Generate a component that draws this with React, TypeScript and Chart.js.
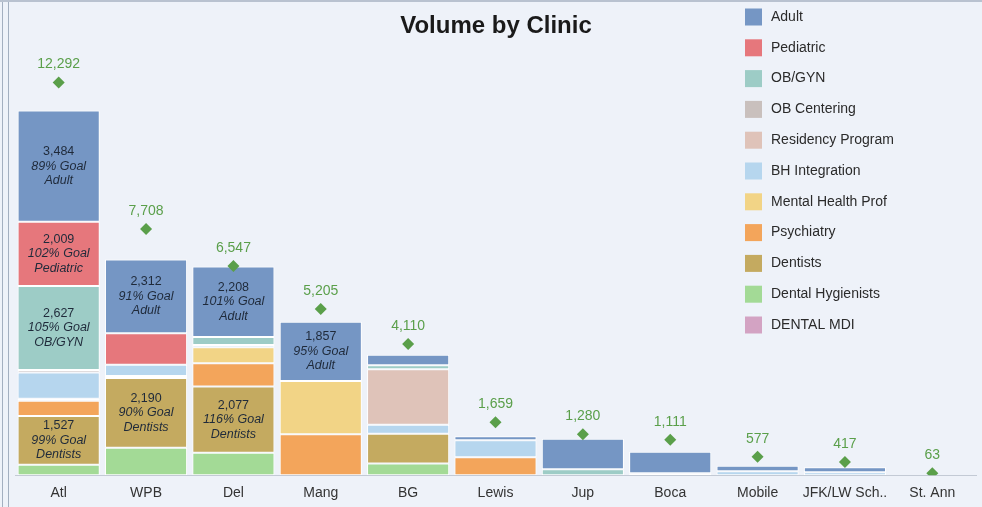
import { useEffect, useRef } from 'react';
import { Chart, registerables } from 'chart.js';

Chart.register(...registerables);

const FONT = '"Liberation Sans", Arial, sans-serif';

// Clinics along the x axis
const clinics = ['Atl', 'WPB', 'Del', 'Mang', 'BG', 'Lewis', 'Jup', 'Boca', 'Mobile', 'JFK/LW Sch..', 'St. Ann'];

// Visit volume per service line, one value per clinic
const adult = [3484, 2312, 2208, 1857, 332, 125, 956, 674, 172, 157, 0];
const pediatric = [2009, 980, 0, 0, 0, 0, 0, 0, 0, 0, 0];
const obGyn = [2627, 0, 250, 0, 125, 0, 188, 0, 0, 0, 0];
const obCentering = [80, 0, 0, 0, 0, 0, 0, 0, 0, 0, 0];
const residencyProgram = [0, 0, 0, 0, 1740, 0, 0, 0, 0, 0, 0];
const bhIntegration = [820, 355, 70, 0, 276, 533, 0, 60, 125, 94, 0];
const mentalHealthProf = [70, 60, 500, 1662, 0, 0, 0, 0, 0, 0, 0];
const psychiatry = [470, 0, 730, 1285, 0, 564, 0, 0, 0, 0, 0];
const dentists = [1527, 2190, 2077, 0, 934, 0, 0, 0, 0, 0, 0];
const dentalHygienists = [330, 856, 700, 0, 367, 0, 0, 0, 0, 0, 0];
const dentalMdi = [0, 0, 0, 0, 0, 0, 0, 0, 0, 0, 0];

// Percent of goal reached, shown inside the larger segments
const adultGoal = [89, 91, 101, 95, null, null, null, null, null, null, null];
const pediatricGoal = [102, null, null, null, null, null, null, null, null, null, null];
const obGynGoal = [105, null, null, null, null, null, null, null, null, null, null];
const dentistsGoal = [99, 90, 116, null, null, null, null, null, null, null, null];

// Clinic totals (diamond markers)
const clinicTotals = [12292, 7708, 6547, 5205, 4110, 1659, 1280, 1111, 577, 417, 63];

// Service lines in legend order (top of the stack first)
const serviceLines = [
  { label: 'Adult', data: adult, color: '#7596c4', goal: adultGoal },
  { label: 'Pediatric', data: pediatric, color: '#e6777c', goal: pediatricGoal },
  { label: 'OB/GYN', data: obGyn, color: '#9dccc6', goal: obGynGoal },
  { label: 'OB Centering', data: obCentering, color: '#c9c0bd', goal: null },
  { label: 'Residency Program', data: residencyProgram, color: '#dfc3b9', goal: null },
  { label: 'BH Integration', data: bhIntegration, color: '#b6d6ee', goal: null },
  { label: 'Mental Health Prof', data: mentalHealthProf, color: '#f2d486', goal: null },
  { label: 'Psychiatry', data: psychiatry, color: '#f3a55b', goal: null },
  { label: 'Dentists', data: dentists, color: '#c4aa60', goal: dentistsGoal },
  { label: 'Dental Hygienists', data: dentalHygienists, color: '#a3da96', goal: null },
  { label: 'DENTAL MDI', data: dentalMdi, color: '#d3a3c3', goal: null },
];

const BG = '#eef2f9';
const TOTAL_GREEN = '#5a9f4a';

const fmt = (v: number) => v.toLocaleString('en-US');

const backdropPlugin = {
  id: 'backdrop',
  beforeDraw(chart: any) {
    const { ctx, width, height } = chart;
    ctx.save();
    ctx.fillStyle = BG;
    ctx.fillRect(0, 0, width, height);
    ctx.strokeStyle = '#a3afc0';
    ctx.lineWidth = 1;
    ctx.beginPath();
    ctx.moveTo(2.5, 0);
    ctx.lineTo(2.5, height);
    ctx.moveTo(8.5, 0);
    ctx.lineTo(8.5, height);
    ctx.stroke();
    ctx.strokeStyle = '#b9c2d0';
    ctx.lineWidth = 2;
    ctx.beginPath();
    ctx.moveTo(0, 1);
    ctx.lineTo(width, 1);
    ctx.stroke();
    ctx.restore();
  },
};

const labelsPlugin = {
  id: 'segmentLabels',
  afterDatasetsDraw(chart: any) {
    const { ctx } = chart;
    ctx.save();
    ctx.textAlign = 'center';
    ctx.textBaseline = 'middle';
    chart.data.datasets.forEach((ds: any, di: number) => {
      const meta = chart.getDatasetMeta(di);
      if (ds.goalValues) {
        meta.data.forEach((bar: any, i: number) => {
          const pct = ds.goalValues[i];
          if (pct == null) return;
          const cy = (bar.y + bar.base) / 2;
          const lh = 14.5;
          ctx.fillStyle = '#1f2a3a';
          ctx.font = `12.5px ${FONT}`;
          ctx.fillText(fmt(ds.data[i]), bar.x, cy - lh);
          ctx.font = `italic 12.5px ${FONT}`;
          ctx.fillText(`${pct}% Goal`, bar.x, cy);
          ctx.fillText(ds.label, bar.x, cy + lh);
        });
      }
      if (ds.isTotal) {
        ctx.fillStyle = TOTAL_GREEN;
        ctx.font = `14px ${FONT}`;
        meta.data.forEach((pt: any, i: number) => {
          ctx.fillText(fmt(ds.data[i]), pt.x, pt.y - 18);
        });
      }
    });
    ctx.restore();
  },
};

const titleLegendPlugin = {
  id: 'titleLegend',
  afterDraw(chart: any) {
    const { ctx } = chart;
    ctx.save();
    ctx.fillStyle = '#1a1a1a';
    ctx.font = `bold 24px ${FONT}`;
    ctx.textAlign = 'center';
    ctx.textBaseline = 'middle';
    ctx.fillText('Volume by Clinic', 496, 26);

    ctx.textAlign = 'left';
    ctx.font = `14px ${FONT}`;
    serviceLines.forEach((s, i) => {
      const cy = 17 + i * 30.8;
      ctx.fillStyle = s.color;
      ctx.fillRect(745, cy - 8.5, 17, 17);
      ctx.fillStyle = '#2b2b2b';
      ctx.fillText(s.label, 771, cy);
    });
    ctx.restore();
  },
};

export default function App() {
  const canvasRef = useRef<HTMLCanvasElement | null>(null);

  useEffect(() => {
    if (!canvasRef.current) return;

    // Bottom of the stack first
    const barSets = [...serviceLines].reverse().map((s) => ({
      type: 'bar' as const,
      label: s.label,
      data: s.data,
      backgroundColor: s.color,
      borderColor: '#ffffff',
      borderWidth: 1,
      borderSkipped: false,
      stack: 'visits',
      goalValues: s.goal,
    }));

    const chart = new Chart(canvasRef.current, {
      type: 'bar',
      data: {
        labels: clinics,
        datasets: [
          ...barSets,
          {
            type: 'line' as const,
            label: 'Total',
            data: clinicTotals,
            showLine: false,
            pointStyle: 'rectRot',
            pointRadius: 6,
            pointBackgroundColor: TOTAL_GREEN,
            pointBorderColor: TOTAL_GREEN,
            pointBorderWidth: 0,
            stack: 'total',
            order: -1,
            isTotal: true,
          } as any,
        ],
      },
      options: {
        animation: false,
        responsive: true,
        maintainAspectRatio: false,
        layout: { padding: { left: 15, right: 5, top: 28, bottom: -5 } },
        datasets: {
          bar: { barPercentage: 0.94, categoryPercentage: 1 },
        },
        plugins: {
          legend: { display: false },
          title: { display: false },
          tooltip: { enabled: false },
        },
        scales: {
          x: {
            stacked: true,
            grid: { display: false, drawTicks: false },
            border: { display: true, color: '#c3cad5', width: 1 },
            ticks: {
              color: '#333333',
              font: { family: FONT, size: 14 },
              padding: 10,
              autoSkip: false,
              maxRotation: 0,
            },
          },
          y: {
            display: false,
            stacked: true,
            min: 0,
            max: 14000,
          },
        },
      },
      plugins: [backdropPlugin, labelsPlugin, titleLegendPlugin],
    });

    return () => chart.destroy();
  }, []);

  return (
    <div style={{ position: 'fixed', left: 0, top: 0, width: 982, height: 507, background: BG }}>
      <canvas ref={canvasRef} width={982} height={507} />
    </div>
  );
}
